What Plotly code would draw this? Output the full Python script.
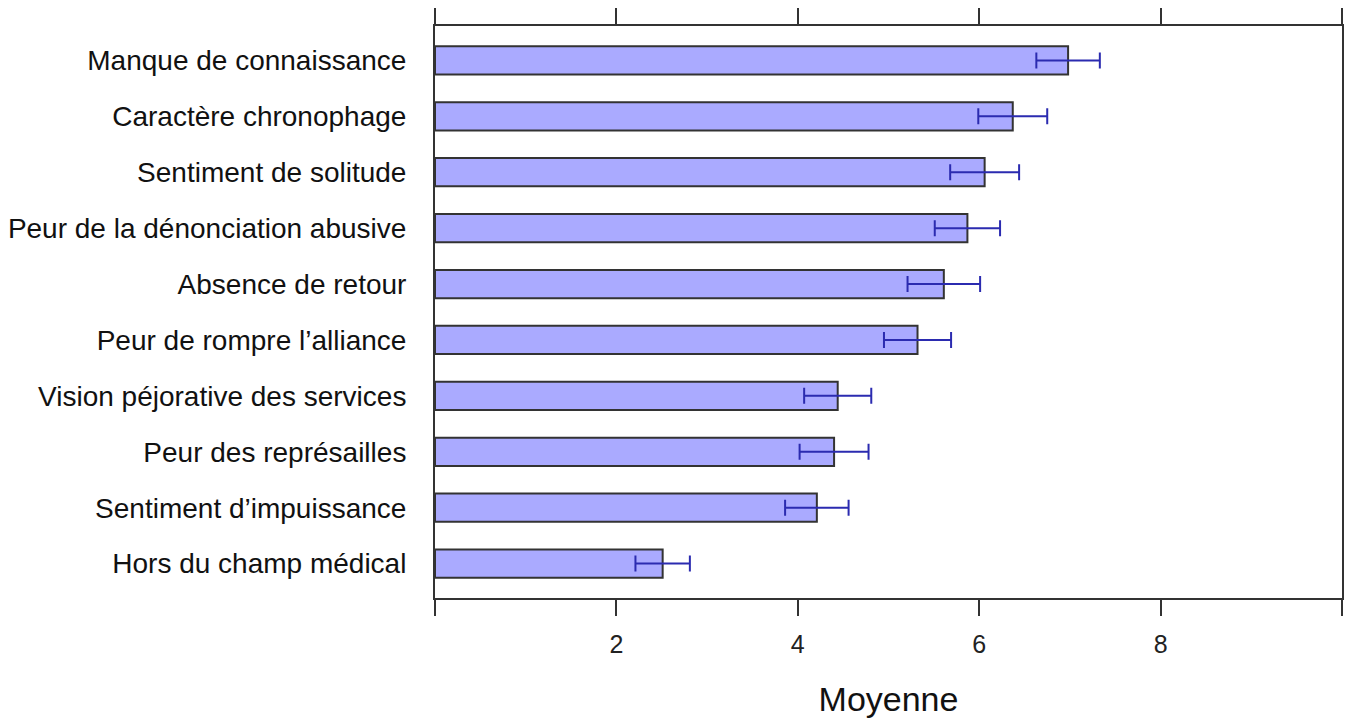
import plotly.graph_objects as go

categories = [
    "Manque de connaissance",
    "Caractère chronophage",
    "Sentiment de solitude",
    "Peur de la dénonciation abusive",
    "Absence de retour",
    "Peur de rompre l’alliance",
    "Vision péjorative des services",
    "Peur des représailles",
    "Sentiment d’impuissance",
    "Hors du champ médical",
]
means = [6.98, 6.37, 6.06, 5.87, 5.61, 5.32, 4.44, 4.40, 4.21, 2.51]
errors = [0.35, 0.38, 0.38, 0.36, 0.40, 0.37, 0.37, 0.38, 0.35, 0.30]

x_tickvals = [0, 2, 4, 6, 8, 10]
x_ticktext = ["", "2", "4", "6", "8", ""]

axis_color = "#333333"
font_family = "Liberation Sans, Arial, sans-serif"

fig = go.Figure(
    go.Bar(
        x=means,
        y=categories,
        orientation="h",
        width=0.506,
        marker=dict(color="#AAAAFF", line=dict(color="#333333", width=2)),
        error_x=dict(
            type="data",
            array=errors,
            visible=True,
            color="#2B2BB0",
            thickness=2,
            width=8,
        ),
    )
)

fig.update_layout(
    width=1352,
    height=722,
    margin=dict(l=434, r=8, t=26, b=124),
    plot_bgcolor="white",
    paper_bgcolor="white",
    showlegend=False,
    font=dict(family=font_family, color="#000000"),
    xaxis=dict(
        range=[0, 10],
        tickvals=x_tickvals,
        ticktext=x_ticktext,
        ticks="outside",
        ticklen=16,
        tickwidth=2,
        tickcolor=axis_color,
        showline=True,
        linecolor=axis_color,
        linewidth=2,
        mirror="ticks",
        showgrid=False,
        zeroline=False,
        tickfont=dict(size=25, color="#222222"),
        ticklabelstandoff=7,
        title=dict(text="Moyenne", font=dict(size=34, color="#111111"), standoff=30),
    ),
    yaxis=dict(
        categoryorder="array",
        categoryarray=categories,
        range=[9.615, -0.615],
        showline=True,
        linecolor=axis_color,
        linewidth=2,
        mirror=True,
        showgrid=False,
        zeroline=False,
        ticks="",
        tickfont=dict(size=28, color="#111111"),
        ticklabelstandoff=21,
    ),
)

fig.write_html("out.html")
